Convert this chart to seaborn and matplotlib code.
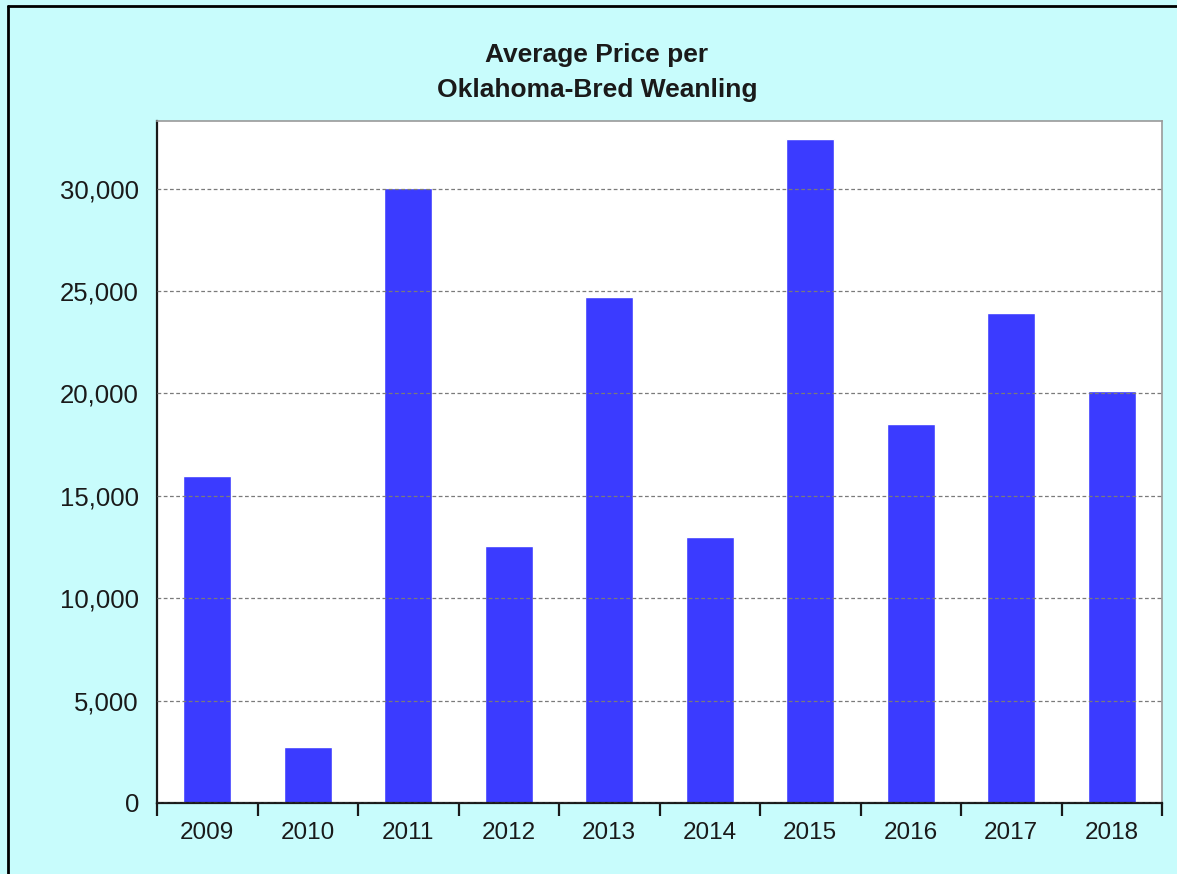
import matplotlib
matplotlib.use("Agg")
import matplotlib.pyplot as plt
import matplotlib.ticker as mticker
from matplotlib.lines import Line2D
import seaborn as sns
import pandas as pd

years = ["2009", "2010", "2011", "2012", "2013", "2014", "2015", "2016", "2017", "2018"]
avg_price = [15970, 2710, 30020, 12560, 24690, 12970, 32400, 18500, 23930, 20100]
title_lines = ["Average Price per", "Oklahoma-Bred Weanling"]
y_ticks = [0, 5000, 10000, 15000, 20000, 25000, 30000]

sns.set_style("white")
plt.rcParams["font.family"] = ["Liberation Sans", "DejaVu Sans"]

bg = "#C8FCFC"
bar_color = "#3B3BFF"

fig = plt.figure(figsize=(11.77, 8.74), dpi=100, facecolor=bg)
ax = fig.add_axes([157 / 1177, 1 - 803 / 874, (1162 - 157) / 1177, (803 - 121) / 874])
ax.set_facecolor("white")

df = pd.DataFrame({"year": years, "price": avg_price})
sns.barplot(data=df, x="year", y="price", color=bar_color, saturation=1,
            width=0.48, ax=ax, errorbar=None)

ax.set_xlim(-0.5, len(years) - 0.5)
ax.set_ylim(0, 33300)
ax.set_xlabel("")
ax.set_ylabel("")

# y axis
ax.set_yticks(y_ticks)
ax.yaxis.set_major_formatter(mticker.FuncFormatter(lambda v, p: f"{int(v):,}"))
ax.tick_params(axis="y", length=0, pad=13, labelsize=18.5, labelcolor="#1a1a1a")

# x axis: tick marks at boundaries, labels at centers
ax.set_xticks([i - 0.5 for i in range(len(years) + 1)])
ax.set_xticklabels([])
ax.set_xticks(range(len(years)), minor=True)
ax.set_xticklabels(years, minor=True)
ax.tick_params(axis="x", which="major", length=9, width=1.6, color="#1a1a1a", direction="out", bottom=True)
ax.tick_params(axis="x", which="minor", length=0, pad=14, labelsize=17.5, labelcolor="#1a1a1a")

# grid on top of bars
ax.set_axisbelow(False)
ax.yaxis.grid(True, linestyle=(0, (3, 2)), color="#7a7a7a", linewidth=0.9)
ax.xaxis.grid(False)

for side in ["left", "bottom"]:
    ax.spines[side].set_color("#1a1a1a")
    ax.spines[side].set_linewidth(1.6)
for side in ["top", "right"]:
    ax.spines[side].set_color("#9a9a9a")
    ax.spines[side].set_linewidth(1.2)
    ax.spines[side].set_visible(True)

fig.text(597 / 1177, 1 - 62 / 874, title_lines[0], ha="center", va="baseline",
         fontsize=19, fontweight="bold", color="#1a1a1a")
fig.text(597 / 1177, 1 - 97 / 874, title_lines[1], ha="center", va="baseline",
         fontsize=19, fontweight="bold", color="#1a1a1a")

# outer border (top and left)
fig.add_artist(Line2D([8 / 1177, 1], [1 - 6 / 874, 1 - 6 / 874], transform=fig.transFigure,
                      color="black", linewidth=2))
fig.add_artist(Line2D([8 / 1177, 8 / 1177], [0, 1 - 6 / 874], transform=fig.transFigure,
                      color="black", linewidth=2))

fig.savefig("out.png", dpi=100, facecolor=bg)
